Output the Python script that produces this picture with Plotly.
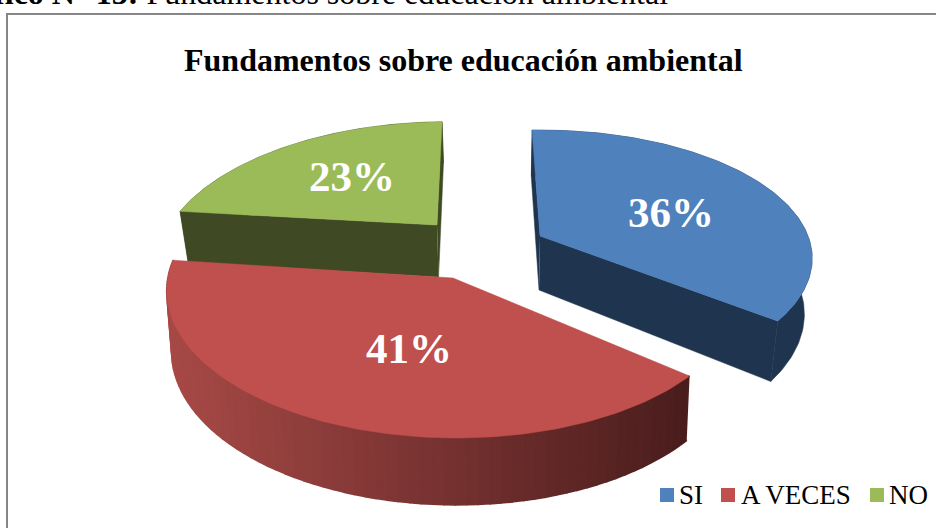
import numpy as np
import plotly.graph_objects as go

# --- data ---
categories = ["SI", "A VECES", "NO"]
percentages = [36, 41, 23]
chart_title = "Fundamentos sobre educación ambiental"
caption_bold = "Gráfico N° 13:"
caption_rest = " Fundamentos sobre educación ambiental"

# --- styles ---
top_colors = ["#4F81BD", "#C0504D", "#9BBB59"]
wall_colors = ["#1F344F", None, "#3F4A24"]
red_wall_left = np.array([0xA8, 0x4A, 0x47])
red_wall_right = np.array([0x4A, 0x1D, 0x1D])
FONT = "Liberation Serif"

# projection constants per slice (pixel geometry of the pseudo-3D view)
apex = {"SI": (540, 236), "A VECES": (453, 278), "NO": (437, 225)}
radius_x = {"SI": 268, "A VECES": 285, "NO": 267}
radius_y = {"SI": 124.5, "A VECES": 144, "NO": 130}
persp = {"SI": 0.175, "A VECES": 0.10, "NO": 0.26}
skew = {"SI": 0, "A VECES": -3, "NO": 11}
turn = {"SI": -2, "A VECES": 0, "NO": -1}
depth = {"SI": 54, "A VECES": 60, "NO": 52}
vanish_k = {"SI": 0.975, "A VECES": 0.985, "NO": 0.975}
VANISH_X = 500
label_xy = {"SI": (671, 216), "A VECES": (409, 352), "NO": (352, 180)}


def project(cat, deg):
    t = np.radians(np.asarray(deg, dtype=float) + turn[cat])
    u, v = np.sin(t), np.cos(t)
    s = 1 / (1 + persp[cat] * v)
    cx, cy = apex[cat]
    return cx + (radius_x[cat] * u + skew[cat] * v) * s, cy - radius_y[cat] * v * s, s


def drop(cat, x, y, s):
    return VANISH_X + (x - VANISH_X) * vanish_k[cat], y + depth[cat] * s


def poly(x, y, color, name, width=0.5):
    return go.Scatter(x=list(x), y=list(y), mode="lines", fill="toself", fillcolor=color,
                      line=dict(color=color, width=width), hoverinfo="skip",
                      showlegend=False, name=name)


# slice angle ranges computed from the values
total = sum(percentages)
edges = np.cumsum([0] + percentages) / total * 360
span = {c: (edges[i], edges[i + 1]) for i, c in enumerate(categories)}
index = {c: i for i, c in enumerate(categories)}

fig = go.Figure()


def draw_slice(cat):
    a0, a1 = span[cat]
    i = index[cat]
    deg = np.linspace(a0, a1, 120)
    x, y, s = project(cat, deg)
    bx, by = drop(cat, x, y, s)
    ax, ay = apex[cat]
    abx, aby = drop(cat, np.array([ax]), np.array([ay]), np.array([1.0]))
    abx, aby = abx[0], aby[0]
    if wall_colors[i]:
        c = wall_colors[i]
        # radial cut faces
        fig.add_trace(poly([ax, x[0], bx[0], abx], [ay, y[0], by[0], aby], c, cat))
        fig.add_trace(poly([ax, x[-1], bx[-1], abx], [ay, y[-1], by[-1], aby], c, cat))
        # outer wall
        fig.add_trace(poly(np.r_[x, bx[::-1]], np.r_[y, by[::-1]], c, cat))
    else:
        # shaded outer wall in strips
        n = 70
        dd = np.linspace(a0, a1, n + 1)
        px, py, ps = project(cat, dd)
        qx, qy = drop(cat, px, py, ps)
        lo, hi = px.min(), px.max()
        for k in range(n):
            f = 1 - ((px[k] + px[k + 1]) / 2 - lo) / (hi - lo)
            col = red_wall_right + (red_wall_left - red_wall_right) * f
            hexc = "rgb(%d,%d,%d)" % tuple(col)
            fig.add_trace(poly([px[k], px[k + 1], qx[k + 1], qx[k]],
                               [py[k], py[k + 1], qy[k + 1], qy[k]], hexc, cat, width=2))
    fig.add_trace(poly(np.r_[ax, x, ax], np.r_[ay, y, ay], top_colors[i], cat))


for cat in ["NO", "SI", "A VECES"]:
    draw_slice(cat)

# value labels
fig.add_trace(go.Scatter(
    x=[label_xy[c][0] for c in categories],
    y=[label_xy[c][1] for c in categories],
    text=[f"{p}%" for p in percentages],
    mode="text", textposition="middle center",
    textfont=dict(family=FONT, size=43, color="white"),
    texttemplate="<b>%{text}</b>", hoverinfo="skip", showlegend=False))

# legend
legend_marker_x = [667, 728, 877]
legend_text_x = [679, 741, 889]
fig.add_trace(go.Scatter(x=legend_marker_x, y=[495] * 3, mode="markers",
                         marker=dict(symbol="square", size=14, color=top_colors, line=dict(width=0)),
                         hoverinfo="skip", showlegend=False))
annotations = [dict(x=xt, y=495, text=c, showarrow=False, xanchor="left", yanchor="middle",
                    xshift=-2, font=dict(family=FONT, size=27, color="black"))
               for xt, c in zip(legend_text_x, categories)]
annotations.append(dict(x=463, y=60, text=f"<b>{chart_title}</b>", showarrow=False,
                        xanchor="center", yanchor="middle",
                        font=dict(family=FONT, size=32, color="black")))
annotations.append(dict(x=668 / 936, y=1 - 13 / 528, xref="paper", yref="paper",
                        text=f"<b>{caption_bold}</b>{caption_rest}", showarrow=False,
                        xanchor="right", yanchor="bottom", xshift=2, align="right",
                        font=dict(family=FONT, size=32, color="black")))

fig.update_layout(
    width=936, height=528, margin=dict(l=0, r=0, t=0, b=0),
    paper_bgcolor="white", plot_bgcolor="white", showlegend=False,
    xaxis=dict(range=[0, 936], visible=False, fixedrange=True),
    yaxis=dict(range=[528, 0], visible=False, fixedrange=True),
    annotations=annotations,
    shapes=[dict(type="path", path="M 7 528 L 7 14 L 936 14", line=dict(color="#868686", width=2),
                 layer="below")],
)
fig.update_traces(cliponaxis=False, selector=dict(mode="text"))

fig.write_html("out.html", config={"displayModeBar": False},
               post_script="document.body.style.margin='0';document.body.style.overflow='hidden';")
